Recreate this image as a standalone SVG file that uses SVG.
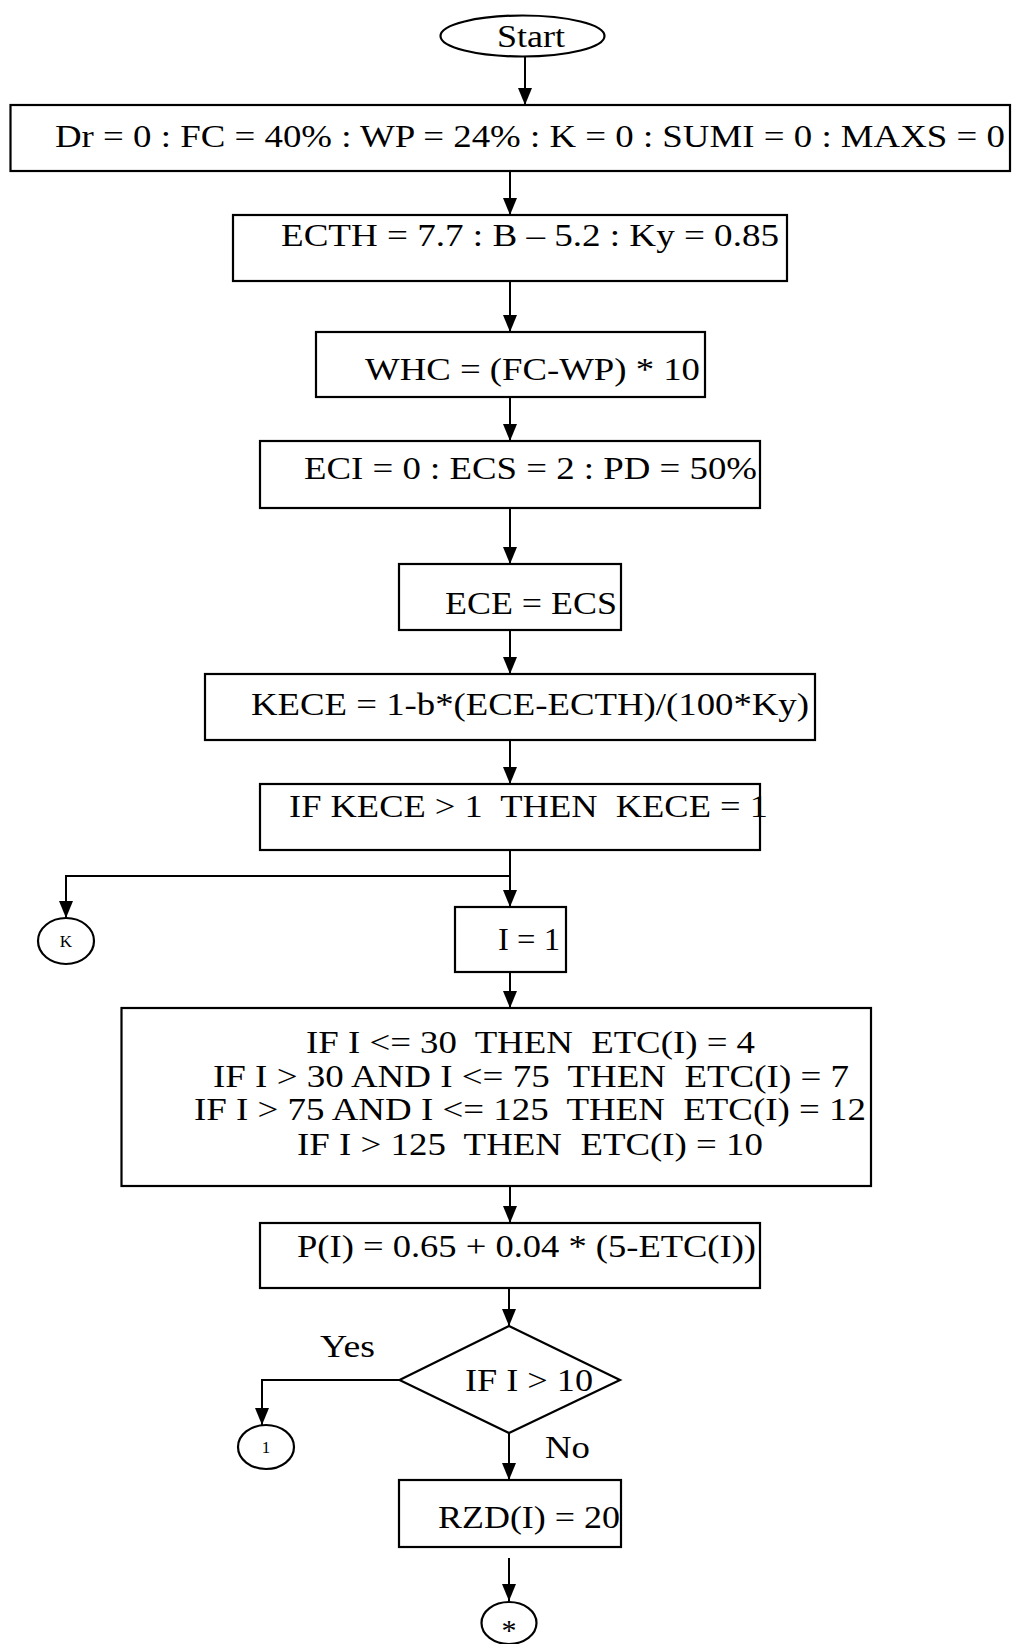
<svg xmlns="http://www.w3.org/2000/svg" width="1013" height="1644" viewBox="0 0 1013 1644" xml:space="preserve">
<style>
.box{fill:none;stroke:#000;stroke-width:2.2}
.ln{fill:none;stroke:#000;stroke-width:2}
.t{font-family:"Liberation Serif","Times New Roman",serif;font-size:31px;fill:#000;white-space:pre}
.s{font-family:"Liberation Serif","Times New Roman",serif;font-size:17px;fill:#000}
.star{font-family:"Liberation Serif","Times New Roman",serif;font-size:30px;fill:#000}
</style>
<defs>
<marker id="ah" viewBox="0 0 17 14" refX="17" refY="7" markerWidth="17" markerHeight="14" markerUnits="userSpaceOnUse" orient="auto">
<path d="M0,0 L17,7 L0,14 z" fill="#000"/>
</marker>
</defs>
<rect width="1013" height="1644" fill="#fff"/>
<g id="connectors">
<line class="ln" x1="525" y1="56" x2="525" y2="105" marker-end="url(#ah)"/>
<line class="ln" x1="510" y1="171" x2="510" y2="215" marker-end="url(#ah)"/>
<line class="ln" x1="510" y1="281" x2="510" y2="332" marker-end="url(#ah)"/>
<line class="ln" x1="510" y1="397" x2="510" y2="441" marker-end="url(#ah)"/>
<line class="ln" x1="510" y1="508" x2="510" y2="564" marker-end="url(#ah)"/>
<line class="ln" x1="510" y1="630" x2="510" y2="674" marker-end="url(#ah)"/>
<line class="ln" x1="510" y1="740" x2="510" y2="784" marker-end="url(#ah)"/>
<line class="ln" x1="510" y1="850" x2="510" y2="907" marker-end="url(#ah)"/>
<polyline class="ln" points="510,876 66,876 66,918" marker-end="url(#ah)"/>
<line class="ln" x1="510" y1="972" x2="510" y2="1008" marker-end="url(#ah)"/>
<line class="ln" x1="510" y1="1186" x2="510" y2="1223" marker-end="url(#ah)"/>
<line class="ln" x1="509" y1="1288" x2="509" y2="1326" marker-end="url(#ah)"/>
<polyline class="ln" points="399.5,1380 262,1380 262,1425" marker-end="url(#ah)"/>
<line class="ln" x1="509" y1="1433" x2="509" y2="1480" marker-end="url(#ah)"/>
<line class="ln" x1="509" y1="1558" x2="509" y2="1601" marker-end="url(#ah)"/>
</g>
<g id="start">
<ellipse class="box" cx="522.5" cy="36" rx="82" ry="20.5"/>
<text class="t" x="497" y="47" textLength="68" lengthAdjust="spacingAndGlyphs">Start</text>
</g>
<g id="init">
<rect class="box" x="10.5" y="105" width="999.5" height="66"/>
<text class="t" x="55" y="147" textLength="950" lengthAdjust="spacingAndGlyphs">Dr = 0 : FC = 40% : WP = 24% : K = 0 : SUMI = 0 : MAXS = 0</text>
</g>
<g id="ecth">
<rect class="box" x="233" y="215" width="554" height="66"/>
<text class="t" x="281" y="246" textLength="498" lengthAdjust="spacingAndGlyphs">ECTH = 7.7 : B – 5.2 : Ky = 0.85</text>
</g>
<g id="whc">
<rect class="box" x="316" y="332" width="389" height="65"/>
<text class="t" x="365" y="380" textLength="335" lengthAdjust="spacingAndGlyphs">WHC = (FC-WP) * 10</text>
</g>
<g id="eci">
<rect class="box" x="260" y="441" width="500" height="67"/>
<text class="t" x="304" y="479" textLength="453" lengthAdjust="spacingAndGlyphs">ECI = 0 : ECS = 2 : PD = 50%</text>
</g>
<g id="ece">
<rect class="box" x="399" y="564" width="222" height="66"/>
<text class="t" x="445" y="614" textLength="172" lengthAdjust="spacingAndGlyphs">ECE = ECS</text>
</g>
<g id="kece">
<rect class="box" x="205" y="674" width="610" height="66"/>
<text class="t" x="251" y="715" textLength="558" lengthAdjust="spacingAndGlyphs">KECE = 1-b*(ECE-ECTH)/(100*Ky)</text>
</g>
<g id="ifkece">
<rect class="box" x="260" y="784" width="500" height="66"/>
<text class="t" x="289" y="817" textLength="479" lengthAdjust="spacingAndGlyphs">IF KECE &gt; 1  THEN  KECE = 1</text>
</g>
<g id="connK">
<ellipse class="box" cx="66" cy="941" rx="28" ry="23"/>
<text class="s" x="66" y="947" text-anchor="middle">K</text>
</g>
<g id="i1">
<rect class="box" x="455" y="907" width="111" height="65"/>
<text class="t" x="498" y="950" textLength="62" lengthAdjust="spacingAndGlyphs">I = 1</text>
</g>
<g id="etc">
<rect class="box" x="121.5" y="1008" width="749.5" height="178"/>
<text class="t" x="306" y="1053" textLength="449" lengthAdjust="spacingAndGlyphs">IF I &lt;= 30  THEN  ETC(I) = 4</text>
<text class="t" x="213" y="1087" textLength="636" lengthAdjust="spacingAndGlyphs">IF I &gt; 30 AND I &lt;= 75  THEN  ETC(I) = 7</text>
<text class="t" x="194" y="1120" textLength="672" lengthAdjust="spacingAndGlyphs">IF I &gt; 75 AND I &lt;= 125  THEN  ETC(I) = 12</text>
<text class="t" x="297" y="1155" textLength="466" lengthAdjust="spacingAndGlyphs">IF I &gt; 125  THEN  ETC(I) = 10</text>
</g>
<g id="p">
<rect class="box" x="260" y="1223" width="500" height="65"/>
<text class="t" x="297" y="1257" textLength="459" lengthAdjust="spacingAndGlyphs">P(I) = 0.65 + 0.04 * (5-ETC(I))</text>
</g>
<g id="decision">
<polygon class="box" points="509,1326 620,1380 509,1433 399.5,1380"/>
<text class="t" x="465" y="1391" textLength="128" lengthAdjust="spacingAndGlyphs">IF I &gt; 10</text>
<text class="t" x="320" y="1357" textLength="55" lengthAdjust="spacingAndGlyphs">Yes</text>
<text class="t" x="545" y="1458" textLength="45" lengthAdjust="spacingAndGlyphs">No</text>
</g>
<g id="conn1">
<ellipse class="box" cx="266" cy="1447" rx="28" ry="22"/>
<text class="s" x="266" y="1453" text-anchor="middle">1</text>
</g>
<g id="rzd">
<rect class="box" x="399" y="1480" width="222" height="67"/>
<text class="t" x="438" y="1528" textLength="182" lengthAdjust="spacingAndGlyphs">RZD(I) = 20</text>
</g>
<g id="connStar">
<ellipse class="box" cx="509" cy="1623" rx="27.5" ry="21"/>
<text class="star" x="509" y="1640" text-anchor="middle">*</text>
</g>
</svg>
